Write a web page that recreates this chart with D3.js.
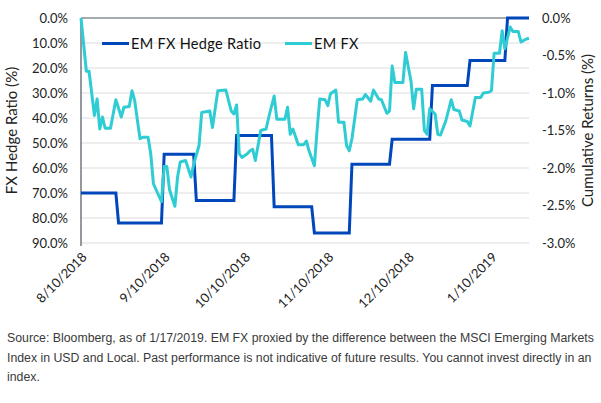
<!DOCTYPE html>
<html>
<head>
<meta charset="utf-8">
<script src="https://cdn.jsdelivr.net/npm/d3@7"></script>
<style>
  body { margin: 0; background: #fff; }
  svg { display: block; }
  .tick-label { font-family: Lato, 'Open Sans', sans-serif; font-size: 13px; fill: #222; }
  .axis-title { font-family: Lato, 'Open Sans', sans-serif; font-size: 15px; fill: #222; }
  .legend-label { font-family: Lato, 'Open Sans', sans-serif; font-size: 14.5px; letter-spacing: 0.3px; fill: #111; }
  .note { font-family: 'Liberation Sans', Arial, sans-serif; font-size: 12.3px; fill: #3a3a3a; }
</style>
</head>
<body>
<svg id="chart" width="601" height="403"></svg>
<script>
// EM FX hedge ratio (left axis, %), step changes
const hedgeDates = ['2018-08-10', '2018-08-23', '2018-08-24', '2018-09-09', '2018-09-10', '2018-09-21',
  '2018-09-22', '2018-10-06', '2018-10-07', '2018-10-20', '2018-10-21', '2018-11-04',
  '2018-11-05', '2018-11-18', '2018-11-19', '2018-12-03', '2018-12-04', '2018-12-18',
  '2018-12-19', '2019-01-01', '2019-01-02', '2019-01-15', '2019-01-16', '2019-01-24'];
const hedgeValues = [70, 70, 82, 82, 54.5, 54.5,
  73, 73, 47, 47, 75.5, 75.5,
  86, 86, 58.5, 58.5, 48.5, 48.5,
  27, 27, 17, 17, 0, 0];

// EM FX cumulative returns (right axis, %)
const fxDates = ['2018-08-10', '2018-08-12', '2018-08-13', '2018-08-15', '2018-08-16', '2018-08-17',
  '2018-08-18', '2018-08-19', '2018-08-21', '2018-08-23', '2018-08-25', '2018-08-26',
  '2018-08-28', '2018-08-29', '2018-08-30', '2018-09-01', '2018-09-02', '2018-09-04',
  '2018-09-05', '2018-09-06', '2018-09-08', '2018-09-09', '2018-09-10', '2018-09-11',
  '2018-09-12', '2018-09-14', '2018-09-15', '2018-09-16', '2018-09-18', '2018-09-20',
  '2018-09-21', '2018-09-23', '2018-09-24', '2018-09-27', '2018-09-28', '2018-09-30',
  '2018-10-03', '2018-10-05', '2018-10-06', '2018-10-07', '2018-10-08', '2018-10-09',
  '2018-10-11', '2018-10-12', '2018-10-13', '2018-10-14', '2018-10-16', '2018-10-18',
  '2018-10-19', '2018-10-21', '2018-10-22', '2018-10-25', '2018-10-26', '2018-10-27',
  '2018-10-28', '2018-10-30', '2018-11-01', '2018-11-02', '2018-11-03', '2018-11-05',
  '2018-11-06', '2018-11-07', '2018-11-09', '2018-11-10', '2018-11-11', '2018-11-13',
  '2018-11-14', '2018-11-16', '2018-11-17', '2018-11-18', '2018-11-19', '2018-11-21',
  '2018-11-23', '2018-11-24', '2018-11-26', '2018-11-27', '2018-11-29', '2018-11-30',
  '2018-12-02', '2018-12-03', '2018-12-04', '2018-12-05', '2018-12-08', '2018-12-09',
  '2018-12-11', '2018-12-12', '2018-12-13', '2018-12-15', '2018-12-16', '2018-12-17',
  '2018-12-18', '2018-12-20', '2018-12-21', '2018-12-22', '2018-12-24', '2018-12-26',
  '2018-12-27', '2018-12-29', '2018-12-30', '2019-01-01', '2019-01-02', '2019-01-04',
  '2019-01-06', '2019-01-07', '2019-01-09', '2019-01-10', '2019-01-11', '2019-01-13',
  '2019-01-14', '2019-01-15', '2019-01-17', '2019-01-18', '2019-01-20', '2019-01-21',
  '2019-01-23', '2019-01-24'];
const fxValues = [0, -0.71, -0.71, -1.30, -1.08, -1.48,
  -1.32, -1.47, -1.47, -1.09, -1.32, -1.19,
  -1.18, -0.97, -1.10, -1.61, -1.59, -1.59,
  -1.81, -2.21, -2.37, -2.45, -1.98, -1.98,
  -2.29, -2.51, -2.12, -1.92, -1.90, -2.12,
  -1.95, -1.70, -1.26, -1.24, -1.46, -0.97,
  -0.96, -1.24, -1.28, -1.16, -1.81, -1.86,
  -1.81, -1.77, -1.75, -1.90, -1.50, -1.48,
  -1.32, -1.04, -1.35, -1.35, -1.19, -1.55,
  -1.48, -1.69, -1.69, -1.64, -1.77, -1.97,
  -1.50, -1.08, -1.09, -1.17, -1.01, -0.96,
  -1.39, -1.39, -1.70, -1.77, -1.61, -1.09,
  -1.08, -1.02, -1.11, -0.96, -1.08, -1.09,
  -1.27, -1.24, -0.64, -0.86, -0.86, -0.46,
  -0.84, -1.21, -0.95, -0.95, -1.50, -1.55,
  -1.21, -1.28, -1.55, -1.56, -1.37, -1.09,
  -1.22, -1.24, -1.36, -1.38, -1.44, -1.06,
  -1.06, -1.00, -0.99, -0.97, -0.47, -0.47,
  -0.17, -0.41, -0.12, -0.18, -0.18, -0.32,
  -0.28, -0.27];

const xTickDates = ['2018-08-10', '2018-09-10', '2018-10-10', '2018-11-10', '2018-12-10', '2019-01-10'];
const leftTicks = [0, 10, 20, 30, 40, 50, 60, 70, 80, 90];
const rightTicks = [0, -0.5, -1, -1.5, -2, -2.5, -3];
const seriesNames = ['EM FX Hedge Ratio', 'EM FX'];
const seriesColors = ['#0047bb', '#2fccd4'];
const noteLines = [
  'Source: Bloomberg, as of 1/17/2019. EM FX proxied by the difference between the MSCI Emerging Markets',
  'Index in USD and Local. Past performance is not indicative of future results. You cannot invest directly in an',
  'index.'
];

const parseDate = d3.timeParse('%Y-%m-%d');
const fmtDate = d3.timeFormat('%-m/%-d/%Y');

const svg = d3.select('svg#chart');
const margin = { top: 18, left: 81, right: 529, bottom: 243 };

const xScale = d3.scaleTime()
  .domain([parseDate('2018-08-10'), parseDate('2019-01-24')])
  .range([margin.left, margin.right]);
const yLeft = d3.scaleLinear().domain([0, 90]).range([margin.top, margin.bottom]);
const yRight = d3.scaleLinear().domain([0, -3]).range([margin.top, margin.bottom]);

const hedge = hedgeDates.map((d, i) => ({ date: parseDate(d), value: hedgeValues[i] }));
const fx = fxDates.map((d, i) => ({ date: parseDate(d), value: fxValues[i] }));

// gridlines
svg.append('g')
  .selectAll('line')
  .data(leftTicks.slice(1))
  .enter().append('line')
    .attr('x1', margin.left)
    .attr('x2', margin.right)
    .attr('y1', d => yLeft(d))
    .attr('y2', d => yLeft(d))
    .attr('stroke', '#dcdcdc')
    .attr('stroke-width', 1);

// left axis
const leftAxis = d3.axisLeft(yLeft)
  .tickValues(leftTicks)
  .tickSize(0)
  .tickPadding(13)
  .tickFormat(d => d.toFixed(1) + '%');
const leftG = svg.append('g')
  .attr('transform', `translate(${margin.left},0)`)
  .call(leftAxis);
leftG.select('.domain').remove();
leftG.selectAll('text').attr('class', 'tick-label').attr('fill', null);

// right axis
const rightAxis = d3.axisRight(yRight)
  .tickValues(rightTicks)
  .tickSize(0)
  .tickPadding(13)
  .tickFormat(d => d.toFixed(1) + '%');
const rightG = svg.append('g')
  .attr('transform', `translate(${margin.right},0)`)
  .call(rightAxis);
rightG.select('.domain').remove();
rightG.selectAll('text').attr('class', 'tick-label').attr('fill', null);

// x axis labels
const xAxis = d3.axisBottom(xScale)
  .tickValues(xTickDates.map(parseDate))
  .tickSize(0)
  .tickFormat(fmtDate);
const xG = svg.append('g')
  .attr('transform', `translate(0,${margin.bottom})`)
  .call(xAxis);
xG.select('.domain').remove();
xG.selectAll('text')
  .attr('class', 'tick-label')
  .attr('fill', null)
  .attr('dy', null)
  .attr('y', 0)
  .attr('text-anchor', 'end')
  .attr('transform', 'translate(6,15) rotate(-45)');

// axis lines
svg.append('line')
  .attr('x1', margin.left).attr('x2', margin.right)
  .attr('y1', margin.top).attr('y2', margin.top)
  .attr('stroke', '#4d5660').attr('stroke-width', 1.2);
svg.append('line')
  .attr('x1', margin.left).attr('x2', margin.left)
  .attr('y1', margin.top).attr('y2', margin.bottom + 3)
  .attr('stroke', '#4d5660').attr('stroke-width', 1.2);

// lines
const hedgeLine = d3.line()
  .x(d => xScale(d.date))
  .y(d => yLeft(d.value));
const fxLine = d3.line()
  .x(d => xScale(d.date))
  .y(d => yRight(d.value));

svg.append('path')
  .datum(hedge)
  .attr('d', hedgeLine)
  .attr('fill', 'none')
  .attr('stroke', seriesColors[0])
  .attr('stroke-width', 3);

svg.append('path')
  .datum(fx)
  .attr('d', fxLine)
  .attr('fill', 'none')
  .attr('stroke', seriesColors[1])
  .attr('stroke-width', 3)
  .attr('stroke-linejoin', 'round');

// axis titles
svg.append('text')
  .attr('class', 'axis-title')
  .attr('text-anchor', 'middle')
  .attr('transform', `translate(17,${(margin.top + margin.bottom) / 2}) rotate(-90)`)
  .text('FX Hedge Ratio (%)');
svg.append('text')
  .attr('class', 'axis-title')
  .attr('text-anchor', 'middle')
  .attr('transform', `translate(593,${(margin.top + margin.bottom) / 2}) rotate(-90)`)
  .text('Cumulative Returns (%)');

// legend
const legendX = [102, 285];
const legend = svg.append('g');
seriesNames.forEach((name, i) => {
  legend.append('line')
    .attr('x1', legendX[i]).attr('x2', legendX[i] + 27)
    .attr('y1', 43.5).attr('y2', 43.5)
    .attr('stroke', seriesColors[i])
    .attr('stroke-width', 3);
  legend.append('text')
    .attr('class', 'legend-label')
    .attr('x', legendX[i] + 29)
    .attr('y', 48.5)
    .text(name);
});

// footnote
svg.append('g')
  .selectAll('text')
  .data(noteLines)
  .enter().append('text')
    .attr('class', 'note')
    .attr('x', 7)
    .attr('y', (d, i) => 342 + i * 19.5)
    .text(d => d);
</script>
</body>
</html>
